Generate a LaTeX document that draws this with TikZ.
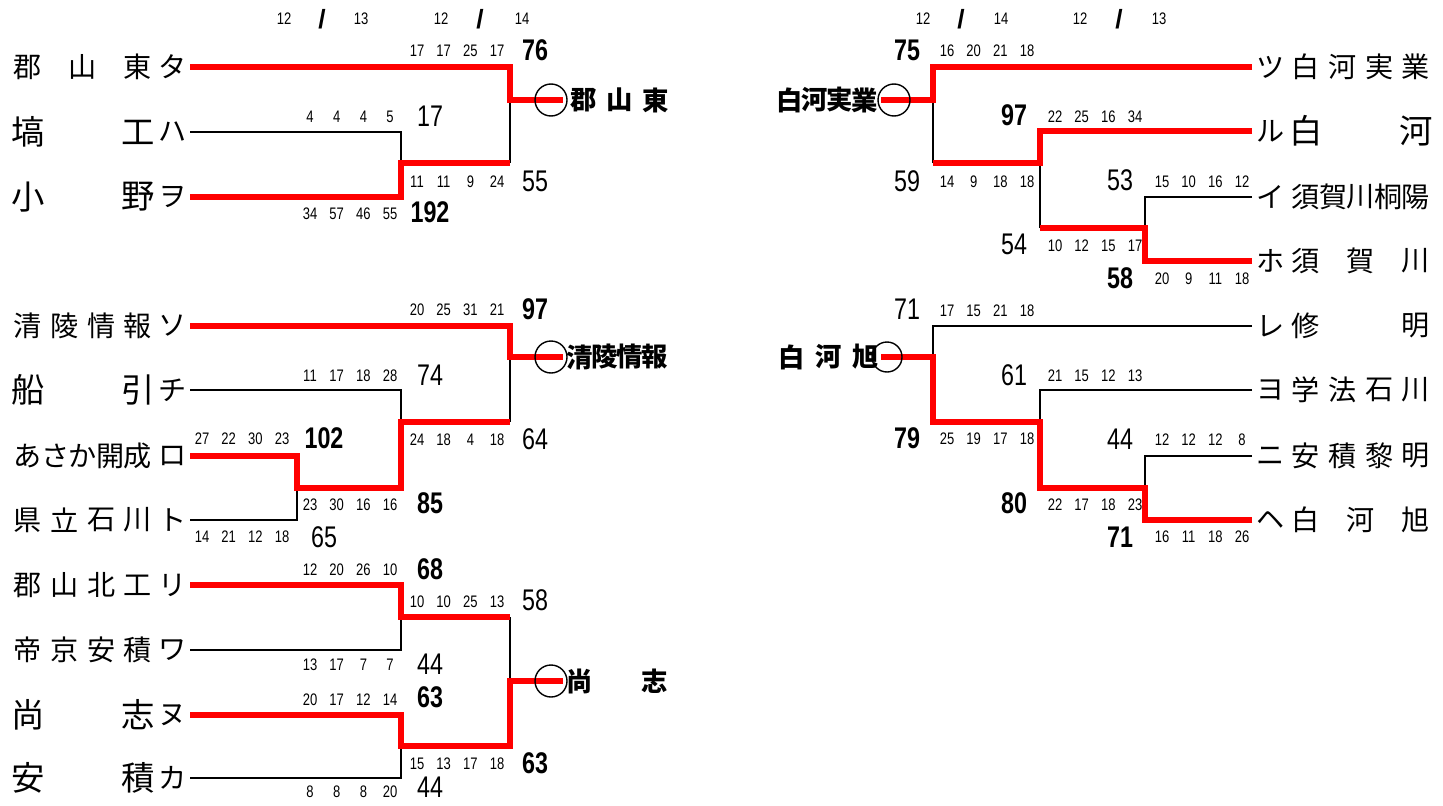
\documentclass[tikz,border=0pt]{standalone}
\usepackage{fontspec}
\newfontfamily\jpfont{Noto Sans CJK JP}
\newfontfamily\numfont[FakeStretch=0.78]{Liberation Sans}
\newfontfamily\slashfont{Liberation Sans}
\usetikzlibrary{calc}

\tikzset{
  won/.style={draw=red,line width=2.9pt},
  lost/.style={draw=black,line width=1.1pt},
  ring/.style={draw=black,line width=0.8pt},
  every node/.style={inner sep=0.5pt},
  pts/.style={font=\numfont\fontsize{9.5}{10}\selectfont},
  tot/.style={font=\numfont\fontsize{17}{17}\selectfont},
  totw/.style={font=\numfont\bfseries\fontsize{17}{17}\selectfont},
  slash/.style={font=\slashfont\bfseries\fontsize{15}{15}\selectfont},
  team/.style={font=\jpfont\fontsize{16}{16}\selectfont},
  teambig/.style={font=\jpfont\fontsize{19}{19}\selectfont},
  champ/.style={font=\jpfont\bfseries\fontsize{15}{15}\selectfont}
}

% four set scores in a row
\newcommand\setrow[3]{%
  \foreach \v [count=\k] in {#3}{\node[pts] (s\k) at ({#1+(\k-1)*26.7},#2) {\v};}}
% characters spread evenly between two centres
\newcommand\spreadname[6]{%
  \foreach \c [count=\k] in {#6}{\node[#1] (c\k) at ({#2+(\k-1)*(#3-#2)/(#5-1)},#4) {\c};}}

\begin{document}
\begin{tikzpicture}[x=0.02cm,y=-0.02cm]
  \useasboundingbox (0,0) rectangle (1443,805);

  % dates
  \foreach \xa/\xb/\xc/\da/\db in {284/322/361/12/13,441/480/522/12/14,923/961/1001/12/14,1080/1119/1159/12/13}{
    \node[pts] (d1) at (\xa,19) {\da};
    \node[slash] (d2) at (\xb,19) {/};
    \node[pts] (d3) at (\xc,19) {\db};
  }

  % left side teams
  \spreadname{team}{28}{138}{67}{3}{郡,山,東}
  \spreadname{teambig}{28}{138}{132}{2}{塙,工}
  \spreadname{teambig}{28}{138}{197}{2}{小,野}
  \spreadname{team}{28}{138}{326}{4}{清,陵,情,報}
  \spreadname{teambig}{28}{138}{390}{2}{船,引}
  \spreadname{team}{28}{138}{456}{5}{あ,さ,か,開,成}
  \spreadname{team}{28}{138}{520}{4}{県,立,石,川}
  \spreadname{team}{28}{138}{585}{4}{郡,山,北,工}
  \spreadname{team}{28}{138}{650}{4}{帝,京,安,積}
  \spreadname{teambig}{28}{138}{715}{2}{尚,志}
  \spreadname{teambig}{28}{138}{778}{2}{安,積}
  \foreach \y/\kn in {67/タ,132/ハ,197/ヲ,326/ソ,390/チ,456/ロ,520/ト,585/リ,650/ワ,715/ヌ,778/カ}
    \node[team] (k) at (173,\y) {\kn};

  % right side teams
  \spreadname{team}{1306}{1416}{67}{4}{白,河,実,業}
  \spreadname{teambig}{1306}{1416}{131}{2}{白,河}
  \spreadname{team}{1306}{1416}{197}{5}{須,賀,川,桐,陽}
  \spreadname{team}{1306}{1416}{261}{3}{須,賀,川}
  \spreadname{team}{1306}{1416}{326}{2}{修,明}
  \spreadname{team}{1306}{1416}{390}{4}{学,法,石,川}
  \spreadname{team}{1306}{1416}{456}{4}{安,積,黎,明}
  \spreadname{team}{1306}{1416}{520}{3}{白,河,旭}
  \foreach \y/\kn in {67/ツ,131/ル,197/イ,261/ホ,326/レ,390/ヨ,456/ニ,520/ヘ}
    \node[team] (k) at (1271,\y) {\kn};

  % left block 1
  \draw[lost] (190,132) -| (401,163);
  \draw[lost] (510,163) -- (510,100);
  \draw[won] (190,67) -| (510,100) -- (563,100);
  \draw[won] (190,197) -| (401,163) -- (510,163);
  \draw[ring] (551,100) circle[radius=16];
  \spreadname{champ}{584}{656}{100}{3}{郡,山,東}
  \setrow{417}{51}{17,17,25,17}   \node[totw] (t1) at (535,50) {76};
  \setrow{310}{117}{4,4,4,5}      \node[tot] (t2) at (430,116) {17};
  \setrow{417}{182}{11,11,9,24}   \node[tot] (t3) at (535,181) {55};
  \setrow{310}{214}{34,57,46,55}  \node[totw] (t4) at (430,212) {192};

  % left block 2
  \draw[lost] (190,390) -| (401,422);
  \draw[lost] (190,520) -| (297,488);
  \draw[lost] (510,422) -- (510,357);
  \draw[won] (190,326) -| (510,357) -- (563,357);
  \draw[won] (190,456) -| (297,488) -| (401,422) -- (510,422);
  \draw[ring] (551,357) circle[radius=16];
  \spreadname{champ}{580}{655}{357}{4}{清,陵,情,報}
  \setrow{417}{310}{20,25,31,21}  \node[totw] (t5) at (535,309) {97};
  \setrow{310}{376}{11,17,18,28}  \node[tot] (t6) at (430,375) {74};
  \setrow{202}{439}{27,22,30,23}  \node[totw] (t7) at (324,438) {102};
  \setrow{417}{440}{24,18,4,18}   \node[tot] (t8) at (535,439) {64};
  \setrow{310}{505}{23,30,16,16}  \node[totw] (t9) at (430,503) {85};
  \setrow{202}{537}{14,21,12,18}  \node[tot] (t10) at (324,537) {65};

  % left block 3
  \draw[lost] (190,650) -| (401,617);
  \draw[lost] (190,778) -| (401,746);
  \draw[lost] (510,617) -- (510,681);
  \draw[won] (190,585) -| (401,617) -- (510,617);
  \draw[won] (190,715) -| (401,746) -| (510,681) -- (563,681);
  \draw[ring] (551,681) circle[radius=16];
  \spreadname{champ}{580}{655}{681}{2}{尚,志}
  \setrow{310}{570}{12,20,26,10}  \node[totw] (t11) at (430,569) {68};
  \setrow{417}{602}{10,10,25,13}  \node[tot] (t12) at (535,600) {58};
  \setrow{310}{665}{13,17,7,7}    \node[tot] (t13) at (430,664) {44};
  \setrow{310}{700}{20,17,12,14}  \node[totw] (t14) at (430,697) {63};
  \setrow{417}{764}{15,13,17,18}  \node[totw] (t15) at (535,763) {63};
  \setrow{310}{792}{8,8,8,20}     \node[tot] (t16) at (430,787) {44};

  % right block 1
  \draw[lost] (933,163) -- (933,100);
  \draw[lost] (1252,197) -| (1145,228);
  \draw[lost] (1040,228) -- (1040,163);
  \draw[won] (1252,67) -| (933,100) -- (881,100);
  \draw[won] (1252,131) -| (1040,163) -- (933,163);
  \draw[won] (1252,261) -| (1145,228) -- (1040,228);
  \draw[ring] (894,100) circle[radius=16];
  \spreadname{champ}{790}{865}{100}{4}{白,河,実,業}
  \node[totw] (t17) at (907,50) {75};   \setrow{947}{51}{16,20,21,18}
  \node[totw] (t18) at (1014,115) {97}; \setrow{1055}{117}{22,25,16,34}
  \node[tot] (t19) at (907,181) {59};   \setrow{947}{182}{14,9,18,18}
  \node[tot] (t20) at (1120,180) {53};  \setrow{1162}{182}{15,10,16,12}
  \node[tot] (t21) at (1014,244) {54};  \setrow{1055}{246}{10,12,15,17}
  \node[totw] (t22) at (1120,278) {58}; \setrow{1162}{279}{20,9,11,18}

  % right block 2
  \draw[lost] (1252,326) -| (933,357);
  \draw[lost] (1252,390) -| (1040,422);
  \draw[lost] (1252,456) -| (1145,488);
  \draw[won] (1252,520) -| (1145,488) -| (1040,422) -| (933,357) -- (881,357);
  \draw[ring] (887,357) circle[radius=15];
  \spreadname{champ}{792}{866}{357}{3}{白,河,旭}
  \node[tot] (t23) at (907,309) {71};   \setrow{947}{311}{17,15,21,18}
  \node[tot] (t24) at (1014,375) {61};  \setrow{1055}{376}{21,15,12,13}
  \node[totw] (t25) at (907,438) {79};  \setrow{947}{439}{25,19,17,18}
  \node[tot] (t26) at (1120,439) {44};  \setrow{1162}{440}{12,12,12,8}
  \node[totw] (t27) at (1014,503) {80}; \setrow{1055}{505}{22,17,18,23}
  \node[totw] (t28) at (1120,537) {71}; \setrow{1162}{537}{16,11,18,26}
\end{tikzpicture}
\end{document}
